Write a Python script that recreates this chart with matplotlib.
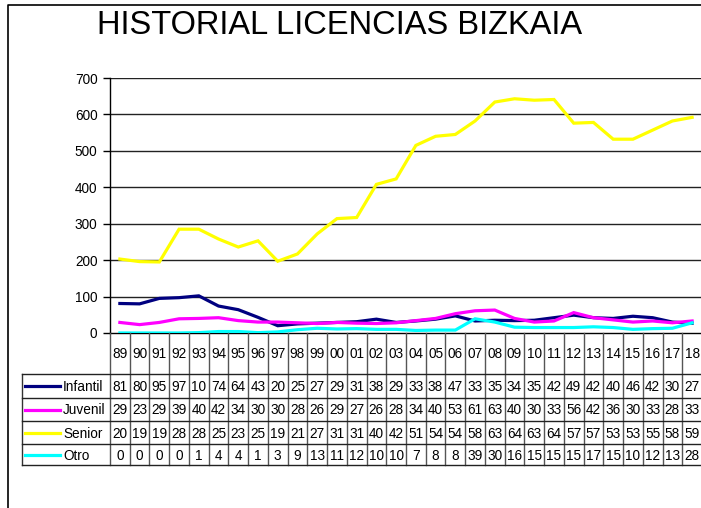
import matplotlib
matplotlib.use('Agg')
import matplotlib.pyplot as plt

plt.rcParams['font.family'] = ['Liberation Sans', 'DejaVu Sans']

years = ['89', '90', '91', '92', '93', '94', '95', '96', '97', '98', '99', '00', '01', '02', '03',
         '04', '05', '06', '07', '08', '09', '10', '11', '12', '13', '14', '15', '16', '17', '18']

infantil = [81, 80, 95, 97, 102, 74, 64, 43, 20, 25, 27, 29, 31, 38, 29,
            33, 38, 47, 33, 35, 34, 35, 42, 49, 42, 40, 46, 42, 30, 27]
juvenil = [29, 23, 29, 39, 40, 42, 34, 30, 30, 28, 26, 29, 27, 26, 28,
           34, 40, 53, 61, 63, 40, 30, 33, 56, 42, 36, 30, 33, 28, 33]
senior = [203, 196, 195, 285, 285, 258, 236, 253, 197, 217, 272, 314, 317, 408, 423,
          515, 540, 545, 582, 634, 643, 639, 641, 576, 578, 532, 532, 557, 582, 592]
otro = [0, 0, 0, 0, 1, 4, 4, 1, 3, 9, 13, 11, 12, 10, 10,
        7, 8, 8, 39, 30, 16, 15, 15, 15, 17, 15, 10, 12, 13, 28]

series = [('Infantil', infantil, '#000080'),
          ('Juvenil', juvenil, '#ff00ff'),
          ('Senior', senior, '#ffff00'),
          ('Otro', otro, '#00ffff')]

W, H = 701, 508
fig = plt.figure(figsize=(W / 100, H / 100), dpi=100)

# plot area in pixels
px_l, px_r, px_t, px_b = 110, 702, 78, 333
ax = fig.add_axes([px_l / W, (H - px_b) / H, (px_r - px_l) / W, (px_b - px_t) / H])
x = list(range(len(years)))
for name, vals, col in series:
    ax.plot(x, vals, color=col, linewidth=2.3, solid_joinstyle='miter', zorder=3)
ax.set_xlim(-0.5, len(years) - 0.5)
ax.set_ylim(0, 700)
ax.set_yticks(range(0, 701, 100))
ax.set_xticks([])
for y in range(100, 701, 100):
    ax.axhline(y, color='#222222', linewidth=1, zorder=1)
for s in ['top', 'right']:
    ax.spines[s].set_visible(False)
ax.spines['left'].set_linewidth(1)
ax.spines['bottom'].set_linewidth(1)
ax.tick_params(axis='y', length=5, width=1, labelsize=9.8, pad=4)

# overlay in pixel coordinates for the data table and frame
ov = fig.add_axes([0, 0, 1, 1], facecolor='none')
ov.set_xlim(0, W)
ov.set_ylim(H, 0)
ov.axis('off')

ov.plot([8, 8, W + 5], [H + 5, 5, 5], color='black', linewidth=1.2)

fig.text(340 / W, 1 - 26 / H, 'HISTORIAL LICENCIAS BIZKAIA', fontsize=23.5,
         ha='center', va='center')

cw = (px_r - px_l) / len(years)
rows_y = [333, 374, 398, 421, 444, 465]
lab_l = 22

# vertical lines
for i in range(len(years) + 1):
    xx = px_l + i * cw
    ov.plot([xx, xx], [rows_y[0], rows_y[-1]], color='#555555', linewidth=1)
ov.plot([lab_l, lab_l], [rows_y[1], rows_y[-1]], color='#333333', linewidth=1)
for yy in rows_y[1:]:
    ov.plot([lab_l, px_r], [yy, yy], color='#222222', linewidth=1)

for i, yr in enumerate(years):
    ov.text(px_l + (i + 0.5) * cw, (rows_y[0] + rows_y[1]) / 2 + 1, yr,
            ha='center', va='center', fontsize=9.8)

for r, (name, vals, col) in enumerate(series):
    yc = (rows_y[r + 1] + rows_y[r + 2]) / 2
    ov.plot([25, 60], [yc, yc], color=col, linewidth=2.3)
    ov.text(63, yc + 1, name, ha='left', va='center', fontsize=9.8)
    for i, v in enumerate(vals):
        ov.text(px_l + (i + 0.5) * cw, yc + 1, str(v)[:2],
                ha='center', va='center', fontsize=9.8)

fig.savefig('out.png', dpi=100)
